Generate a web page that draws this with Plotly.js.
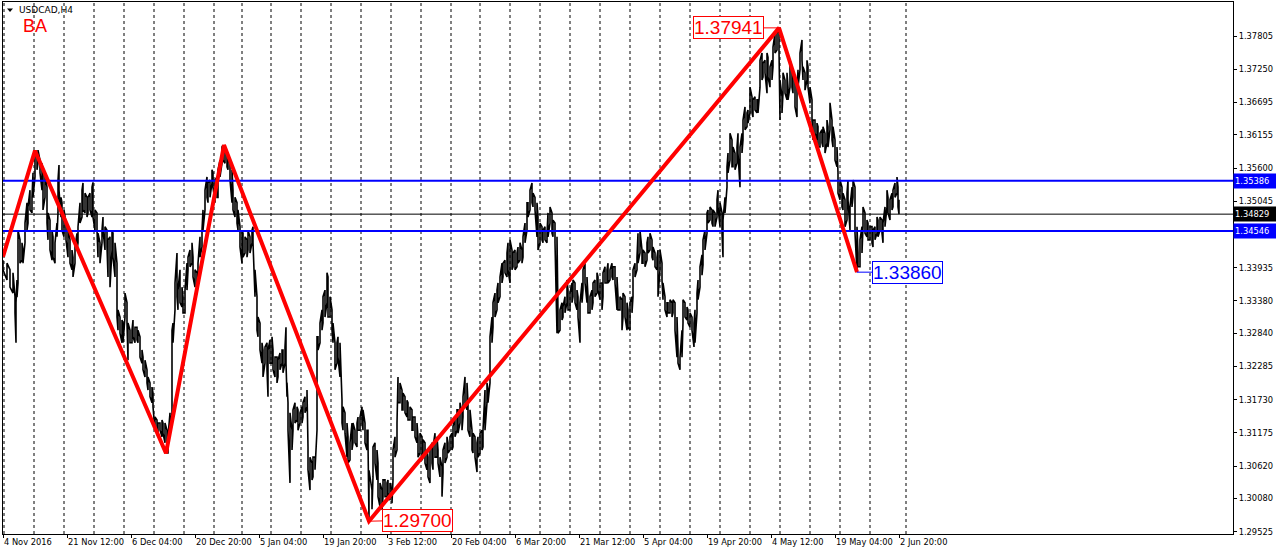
<!DOCTYPE html>
<html><head><meta charset="utf-8">
<script src="https://cdn.plot.ly/plotly-3.0.1.min.js"></script>
<style>html,body{margin:0;padding:0;background:#fff;}#chart{width:1276px;height:555px;}</style>
</head><body><div id="chart"></div>
<script>
// H4 bars: index of bar (from 4 Nov 2016 20:00), high and low of the bar group
const barIndex = [0,4,7,10,12,13,14,15,17,19,20,22,24,25,27,29,30,32,34,35,37,39,40,42,44,45,47,49,50,52,54,55,56,58,59,61,63,65,67,69,70,72,74,75,77,79,80,82,84,85,87,89,90,92,94,95,97,99,100,102,104,105,107,109,110,112,114,115,117,119,120,122,124,125,127,129,130,132,134,135,137,139,140,142,144,145,147,149,150,152,154,155,157,159,160,162,164,165,167,169,170,172,174,175,177,179,180,182,184,185,187,189,190,192,194,195,197,199,200,202,204,205,207,209,210,212,214,215,217,219,220,222,224,225,227,229,
230,232,234,235,237,239,240,242,244,245,247,249,250,252,254,255,257,259,260,262,264,265,267,269,270,272,274,275,277,279,280,282,283,284,285,287,289,290,292,294,295,297,299,300,302,304,305,307,309,310,312,314,315,317,319,320,322,324,325,327,329,330,332,334,335,337,339,340,342,344,345,347,349,350,352,354,355,357,359,360,362,364,365,366,369,370,372,374,375,377,379,380,382,384,385,387,389,390,392,394,395,397,399,400,402,404,405,407,409,410,412,414,415,417,419,420,422,424,425,427,429,430,432,434,435,437,439,440,442,444,445,447,449,450,
452,454,455,457,459,460,462,464,465,467,469,470,472,474,475,477,479,480,482,484,485,487,489,490,492,494,495,497,499,500,502,504,505,507,509,510,512,514,515,517,519,520,522,524,525,527,529,530,532,534,535,537,539,540,542,544,545,547,549,550,552,554,555,557,559,560,562,564,565,567,569,570,572,574,575,577,579,580,582,584,585,587,589,590,592,594,595,597,599,600,602,604,605,607,609,610,612,614,615,617,619,620,622,624,625,627,629,630,632,634,635,637,639,640,642,644,645,647,649,650,652,654,655,657,659,660,662,664,665,667,669,670,672,674,675,677,679,680,682,684,685,687,689,691,692,694,695,697,699,700,702,704,705,707,709,710,712,714,715,717,719,720,722,724,725,727,729,730,732,734,735,737,739,740,742,744,745,747,749,750,752,754,755,757,759,760,762,764,765,767,769,770,772,774,776,777,779,780,782,784,785,787,789,790,792,794,795,797,799,800,802,804,805,807,809,810,812,814,815,817,819,820,822,824,825,827,829,830,832,834,835,837,839,840,842,844,845,847,849,850,852,854,855,857,859,860,862,864,865,867,869,870,872,874,875,877,879,880,882,884,885,887,889,890,892,894,895,896];
const barHigh = [1.3406,1.3401,1.3390,1.3385,1.3345,1.3335,1.3373,1.3456,1.3440,1.3435,1.3423,1.3468,1.3502,1.3495,1.3523,1.3511,1.3552,1.3578,1.3585,1.3590,1.3573,1.3568,1.3552,1.3552,1.3528,1.3485,1.3473,1.3456,1.3445,1.3435,1.3468,1.3540,1.3565,1.3511,1.3502,1.3490,1.3468,1.3462,1.3440,1.3423,1.3411,1.3428,1.3451,1.3462,1.3502,1.3523,1.3535,1.3518,1.3511,1.3511,1.3518,1.3528,1.3536,1.3490,1.3485,1.3451,1.3435,1.3456,1.3478,1.3462,1.3456,1.3440,1.3445,1.3456,1.3451,1.3435,1.3401,1.3323,1.3311,1.3306,1.3301,1.3351,1.3335,1.3301,1.3289,1.3289,1.3306,1.3294,1.3294,1.3289,1.3278,1.3256,1.3244,1.3239,1.3223,1.3211,1.3201,1.3194,1.3184,1.3144,1.3139,1.3134,1.3134,1.3139,1.3134,1.3134,1.3122,1.3111,1.3151,1.3289,1.3301,1.3368,1.3418,1.3356,1.3390,1.3361,1.3345,1.3356,1.3401,1.3411,1.3423,1.3435,1.3411,1.3390,1.3385,1.3401,1.3445,1.3456,1.3490,1.3523,1.3545,1.3535,1.3540,1.3557,1.3552,1.3540,1.3545,1.3557,1.3573,1.3595,1.3598,1.3590,1.3585,1.3578,1.3568,1.3557,
1.3523,1.3511,1.3502,1.3490,1.3462,1.3456,1.3451,1.3445,1.3440,1.3456,1.3445,1.3456,1.3462,1.3390,1.3345,1.3311,1.3301,1.3268,1.3256,1.3261,1.3268,1.3256,1.3273,1.3278,1.3256,1.3244,1.3244,1.3239,1.3251,1.3256,1.3256,1.3261,1.3294,1.3201,1.3168,1.3151,1.3122,1.3156,1.3168,1.3161,1.3156,1.3151,1.3161,1.3168,1.3178,1.3189,1.3094,1.3077,1.3067,1.3077,1.3077,1.3278,1.3278,1.3301,1.3323,1.3345,1.3356,1.3385,1.3378,1.3345,1.3323,1.3301,1.3268,1.3268,1.3278,1.3268,1.3172,1.3161,1.3151,1.3134,1.3111,1.3101,1.3134,1.3134,1.3122,1.3134,1.3144,1.3144,1.3161,1.3156,1.3134,1.3122,1.3122,1.3055,1.3022,1.3094,1.3101,1.3089,1.3067,1.3034,1.3022,1.3039,1.3039,1.3034,1.3039,1.3034,1.3022,1.3089,1.3111,1.3134,1.3211,1.3201,1.3189,1.3184,1.3178,1.3172,1.3168,1.3161,1.3156,1.3144,1.3144,1.3134,1.3111,1.3117,1.3111,1.3106,1.3101,1.3089,1.3077,1.3089,1.3101,1.3094,1.3117,1.3111,1.3089,1.3077,1.3061,1.3089,1.3101,1.3111,1.3101,1.3111,1.3117,1.3128,
1.3144,1.3156,1.3156,1.3168,1.3151,1.3178,1.3211,1.3201,1.3168,1.3156,1.3122,1.3117,1.3111,1.3101,1.3111,1.3117,1.3122,1.3122,1.3189,1.3201,1.3189,1.3278,1.3311,1.3335,1.3351,1.3356,1.3368,1.3378,1.3401,1.3401,1.3406,1.3418,1.3435,1.3440,1.3423,1.3418,1.3423,1.3418,1.3428,1.3435,1.3423,1.3445,1.3468,1.3502,1.3502,1.3523,1.3535,1.3518,1.3511,1.3502,1.3478,1.3468,1.3462,1.3456,1.3462,1.3451,1.3485,1.3495,1.3485,1.3473,1.3468,1.3445,1.3318,1.3323,1.3335,1.3328,1.3345,1.3373,1.3356,1.3351,1.3368,1.3373,1.3368,1.3356,1.3345,1.3335,1.3368,1.3390,1.3401,1.3378,1.3345,1.3345,1.3356,1.3368,1.3373,1.3385,1.3378,1.3368,1.3368,1.3385,1.3395,1.3390,1.3401,1.3390,1.3401,1.3395,1.3395,1.3378,1.3345,1.3345,1.3340,1.3351,1.3345,1.3335,1.3323,1.3335,1.3345,1.3390,1.3401,1.3411,1.3451,1.3456,1.3423,1.3423,1.3418,1.3435,1.3445,1.3451,1.3440,1.3428,1.3418,1.3411,1.3423,1.3423,1.3401,1.3368,1.3345,1.3335,1.3335,1.3340,1.3335,1.3340,1.3335,1.3311,1.3256,1.3244,1.3289,1.3340,1.3335,1.3328,1.3323,1.3318,1.3311,1.3301,1.3323,1.3351,1.3373,1.3395,1.3415,1.3440,1.3456,1.3485,1.3490,1.3495,1.3490,1.3490,1.3485,1.3507,1.3523,1.3502,1.3485,1.3473,1.3511,1.3562,1.3585,1.3618,1.3607,1.3595,1.3585,1.3595,1.3618,1.3595,1.3618,1.3640,1.3662,1.3652,1.3657,1.3695,1.3679,1.3674,1.3679,1.3674,1.3674,1.3740,1.3752,1.3735,1.3740,1.3752,1.3745,1.3729,1.3740,1.3762,1.3785,1.3785,1.3794,1.3707,1.3679,1.3719,1.3707,1.3719,1.3695,1.3740,1.3729,1.3719,1.3707,1.3695,1.3724,1.3752,1.3774,1.3729,1.3719,1.3740,1.3729,1.3695,1.3674,1.3640,1.3640,1.3635,1.3629,1.3618,1.3624,1.3629,1.3618,1.3640,1.3629,1.3669,1.3640,1.3629,1.3607,1.3595,1.3552,1.3540,1.3528,1.3518,1.3507,1.3518,1.3540,1.3495,1.3528,1.3540,1.3528,1.3462,1.3418,1.3440,1.3462,1.3495,1.3485,1.3473,1.3468,1.3462,1.3462,1.3456,1.3462,1.3478,1.3473,1.3478,1.3473,1.3468,1.3495,1.3523,1.3511,1.3507,1.3518,1.3523,1.3535,1.3545,1.3528,1.3507];
const barLow = [1.3390,1.3373,1.3361,1.3351,1.3318,1.3268,1.3344,1.3368,1.3401,1.3406,1.3401,1.3435,1.3456,1.3468,1.3490,1.3485,1.3511,1.3545,1.3557,1.3568,1.3552,1.3523,1.3490,1.3511,1.3468,1.3440,1.3423,1.3406,1.3411,1.3401,1.3445,1.3485,1.3523,1.3478,1.3456,1.3445,1.3440,1.3411,1.3401,1.3390,1.3378,1.3401,1.3423,1.3435,1.3468,1.3478,1.3490,1.3485,1.3478,1.3485,1.3490,1.3478,1.3478,1.3456,1.3456,1.3411,1.3401,1.3435,1.3456,1.3423,1.3428,1.3378,1.3361,1.3423,1.3411,1.3378,1.3311,1.3289,1.3284,1.3268,1.3268,1.3311,1.3301,1.3239,1.3268,1.3268,1.3278,1.3268,1.3273,1.3268,1.3244,1.3234,1.3223,1.3211,1.3201,1.3189,1.3178,1.3168,1.3161,1.3122,1.3117,1.3117,1.3122,1.3111,1.3117,1.3101,1.3084,1.3084,1.3122,1.3151,1.3268,1.3323,1.3345,1.3323,1.3335,1.3328,1.3318,1.3318,1.3356,1.3390,1.3395,1.3401,1.3378,1.3361,1.3356,1.3378,1.3411,1.3428,1.3456,1.3490,1.3511,1.3502,1.3511,1.3535,1.3528,1.3502,1.3511,1.3511,1.3545,1.3568,1.3573,1.3568,1.3562,1.3557,1.3540,1.3502,
1.3490,1.3478,1.3468,1.3456,1.3428,1.3401,1.3411,1.3418,1.3411,1.3423,1.3418,1.3435,1.3435,1.3345,1.3289,1.3278,1.3256,1.3234,1.3211,1.3234,1.3223,1.3178,1.3234,1.3234,1.3223,1.3211,1.3201,1.3211,1.3223,1.3234,1.3218,1.3234,1.3234,1.3178,1.3122,1.3034,1.3089,1.3122,1.3134,1.3139,1.3122,1.3134,1.3134,1.3144,1.3151,1.3161,1.3056,1.3022,1.3039,1.3044,1.3056,1.3122,1.3256,1.3268,1.3289,1.3301,1.3311,1.3335,1.3311,1.3311,1.3289,1.3268,1.3223,1.3234,1.3244,1.3211,1.3134,1.3122,1.3117,1.3077,1.3067,1.3072,1.3089,1.3101,1.3101,1.3094,1.3122,1.3122,1.3134,1.3122,1.3101,1.3089,1.3101,1.2970,1.2990,1.3044,1.3067,1.3039,1.3011,1.2994,1.2989,1.3011,1.3011,1.3011,1.3017,1.3005,1.3000,1.3039,1.3077,1.3089,1.3168,1.3168,1.3156,1.3156,1.3151,1.3144,1.3139,1.3139,1.3122,1.3122,1.3111,1.3101,1.3077,1.3084,1.3072,1.3077,1.3067,1.3056,1.3044,1.3034,1.3067,1.3056,1.3077,1.3077,1.3067,1.3044,1.3011,1.3051,1.3067,1.3077,1.3084,1.3089,1.3089,1.3094,
1.3111,1.3122,1.3117,1.3134,1.3122,1.3144,1.3168,1.3156,1.3122,1.3111,1.3089,1.3084,1.3077,1.3052,1.3077,1.3084,1.3089,1.3094,1.3122,1.3168,1.3168,1.3201,1.3268,1.3294,1.3311,1.3323,1.3335,1.3345,1.3368,1.3378,1.3385,1.3378,1.3390,1.3368,1.3390,1.3395,1.3390,1.3395,1.3401,1.3406,1.3401,1.3411,1.3435,1.3456,1.3478,1.3490,1.3502,1.3495,1.3490,1.3445,1.3423,1.3435,1.3440,1.3435,1.3440,1.3435,1.3445,1.3468,1.3451,1.3445,1.3435,1.3284,1.3284,1.3289,1.3306,1.3311,1.3318,1.3335,1.3323,1.3323,1.3335,1.3345,1.3335,1.3323,1.3311,1.3268,1.3335,1.3356,1.3368,1.3335,1.3318,1.3318,1.3323,1.3335,1.3345,1.3351,1.3356,1.3340,1.3323,1.3345,1.3368,1.3368,1.3368,1.3373,1.3378,1.3373,1.3368,1.3323,1.3323,1.3323,1.3289,1.3311,1.3311,1.3289,1.3294,1.3289,1.3318,1.3345,1.3378,1.3390,1.3401,1.3418,1.3401,1.3401,1.3395,1.3406,1.3418,1.3423,1.3411,1.3406,1.3395,1.3390,1.3345,1.3390,1.3373,1.3340,1.3323,1.3311,1.3318,1.3318,1.3311,1.3318,1.3289,1.3244,1.3234,1.3223,1.3244,1.3301,1.3311,1.3306,1.3301,1.3294,1.3289,1.3261,1.3268,1.3318,1.3340,1.3361,1.3381,1.3398,1.3423,1.3451,1.3468,1.3473,1.3468,1.3462,1.3462,1.3478,1.3495,1.3462,1.3451,1.3411,1.3485,1.3528,1.3552,1.3573,1.3562,1.3562,1.3557,1.3568,1.3585,1.3528,1.3585,1.3607,1.3624,1.3629,1.3635,1.3652,1.3652,1.3645,1.3657,1.3652,1.3652,1.3695,1.3707,1.3712,1.3719,1.3685,1.3712,1.3695,1.3707,1.3729,1.3752,1.3757,1.3757,1.3640,1.3652,1.3685,1.3685,1.3674,1.3674,1.3695,1.3695,1.3685,1.3662,1.3645,1.3695,1.3724,1.3740,1.3707,1.3690,1.3707,1.3695,1.3668,1.3640,1.3607,1.3618,1.3607,1.3595,1.3595,1.3602,1.3595,1.3585,1.3602,1.3595,1.3624,1.3607,1.3595,1.3573,1.3562,1.3518,1.3507,1.3495,1.3490,1.3462,1.3473,1.3507,1.3456,1.3495,1.3511,1.3451,1.3386,1.3395,1.3395,1.3418,1.3462,1.3451,1.3445,1.3440,1.3440,1.3435,1.3428,1.3440,1.3451,1.3445,1.3456,1.3451,1.3435,1.3462,1.3495,1.3485,1.3473,1.3490,1.3495,1.3511,1.3518,1.3495,1.3483];

// ZigZag pivots
const zigIndex = [0, 32, 163, 221, 366, 776, 854];
const zigPrice = [1.34118, 1.35889, 1.30834, 1.35984, 1.29700, 1.37941, 1.33860];
const pivotLabels = ['1.37941', '1.29700', '1.33860'];

// Horizontal levels
const levelPrices = [1.35386, 1.34546];
const levelLabels = ['1.35386', '1.34546'];
const lastPrice = 1.34829;
const lastLabel = '1.34829';

// Axes
const xTickIndex = [0,64,128,192,256,320,384,448,512,576,640,704,768,832,896];
const xTickText = ['4 Nov 2016','21 Nov 12:00','6 Dec 04:00','20 Dec 20:00','5 Jan 04:00','19 Jan 20:00','3 Feb 12:00','20 Feb 04:00','6 Mar 20:00','21 Mar 12:00','5 Apr 04:00','19 Apr 20:00','4 May 12:00','19 May 04:00','2 Jun 20:00'];
const yTickValues = [1.37805,1.37250,1.36695,1.36155,1.35600,1.35045,1.34490,1.33935,1.33380,1.32840,1.32285,1.31730,1.31175,1.30620,1.30080,1.29525];
const yTickText = ['1.37805','1.37250','1.36695','1.36155','1.35600','1.35045','1.34490','1.33935','1.33380','1.32840','1.32285','1.31730','1.31175','1.30620','1.30080','1.29525'];
const weekStartIndex = [1,31,61,91,121,151,181,211,239,268,298,328,358,388,418,448,477,507,537,567,597,627,657,687,717,747,777,807,837,867,903];

const X_MAX = 1230;
const Y_MIN = 1.29486, Y_MAX = 1.38373;

// build scribble path through each bar group's high/low
const px = [], py = [];
for (let k = 0; k < barIndex.length; k++) {
  if (k % 2 === 0) { px.push(barIndex[k], barIndex[k]); py.push(barHigh[k], barLow[k]); }
  else { px.push(barIndex[k], barIndex[k]); py.push(barLow[k], barHigh[k]); }
}

const traces = [
  {x: px, y: py, type: 'scatter', mode: 'lines', line: {color: '#000000', width: 1.6}, hoverinfo: 'skip'},
  {x: [0, X_MAX], y: [lastPrice, lastPrice], type: 'scatter', mode: 'lines', line: {color: '#000000', width: 1}, hoverinfo: 'skip'},
];
levelPrices.forEach(p => traces.push({x: [0, X_MAX], y: [p, p], type: 'scatter', mode: 'lines', line: {color: '#0000FF', width: 2}, hoverinfo: 'skip'}));
traces.push({x: zigIndex, y: zigPrice, type: 'scatter', mode: 'lines', line: {color: '#FF0000', width: 4}, hoverinfo: 'skip'});

const shapes = weekStartIndex.map(i => ({type: 'line', xref: 'x', yref: 'paper', x0: i, x1: i, y0: 0, y1: 1,
  line: {color: '#000000', width: 1, dash: '3px,3px'}, layer: 'below'}));
// small triangle before the symbol name
const xp = v => (v - 3) / 1230, yp = v => (534 - v) / 532;
shapes.push({type: 'path', xref: 'paper', yref: 'paper',
  path: `M ${xp(7)} ${yp(8.5)} L ${xp(13)} ${yp(8.5)} L ${xp(10)} ${yp(12)} Z`, fillcolor: '#000', line: {width: 0}});

const pivotFont = {family: 'Liberation Sans, Arial, sans-serif', size: 19};
const annotations = [
  {xref: 'paper', yref: 'paper', x: xp(17), y: yp(10), xanchor: 'left', yanchor: 'middle', showarrow: false,
   text: 'USDCAD,H4', font: {family: 'DejaVu Sans, sans-serif', size: 9, color: '#000'}},
  {xref: 'paper', yref: 'paper', x: xp(20.5), y: yp(26), xanchor: 'left', yanchor: 'middle', showarrow: false,
   text: 'BA', font: {family: 'Liberation Sans, Arial, sans-serif', size: 18, color: '#FF0000'}},
  {x: zigIndex[5], y: zigPrice[5], text: pivotLabels[0], showarrow: true, arrowhead: 0, arrowwidth: 1, arrowcolor: '#FF0000',
   ax: -51, ay: 0, font: Object.assign({color: '#FF0000'}, pivotFont), bordercolor: '#FF0000', borderwidth: 1, borderpad: 0, bgcolor: '#FFFFFF'},
  {x: zigIndex[4], y: zigPrice[4], text: pivotLabels[1], showarrow: true, arrowhead: 0, arrowwidth: 1, arrowcolor: '#FF0000',
   ax: 48, ay: -1, font: Object.assign({color: '#FF0000'}, pivotFont), bordercolor: '#FF0000', borderwidth: 1, borderpad: 0, bgcolor: '#FFFFFF'},
  {x: zigIndex[6], y: zigPrice[6], text: pivotLabels[2], showarrow: true, arrowhead: 0, arrowwidth: 1, arrowcolor: '#0000FF',
   ax: 50, ay: 0, font: Object.assign({color: '#0000FF'}, pivotFont), bordercolor: '#0000FF', borderwidth: 1, borderpad: 0, bgcolor: '#FFFFFF'},
];
const axisFont = {family: 'DejaVu Sans, sans-serif', size: 8.3, color: '#000'};
levelPrices.forEach((p, i) => annotations.push({xref: 'paper', yref: 'y', x: 1, y: p, xanchor: 'left', yanchor: 'middle',
  showarrow: false, text: levelLabels[i], bgcolor: '#0000FF', font: Object.assign({}, axisFont, {color: '#FFFFFF'}),
  width: 42, align: 'left', borderpad: 1, height: 12}));
annotations.push({xref: 'paper', yref: 'y', x: 1, y: lastPrice, xanchor: 'left', yanchor: 'middle',
  showarrow: false, text: lastLabel, bgcolor: '#000000', font: Object.assign({}, axisFont, {color: '#FFFFFF'}),
  width: 42, align: 'left', borderpad: 1, height: 12});

const layout = {
  width: 1276, height: 555,
  margin: {l: 3, r: 43, t: 2, b: 21, pad: 0},
  paper_bgcolor: '#FFFFFF', plot_bgcolor: '#FFFFFF',
  showlegend: false,
  xaxis: {range: [0, X_MAX], showgrid: false, zeroline: false, showline: true, mirror: true, linecolor: '#000', linewidth: 1,
    tickmode: 'array', tickvals: xTickIndex, ticktext: xTickText, ticks: 'outside', ticklen: 3, tickcolor: '#000',
    ticklabelposition: 'outside right', tickfont: axisFont, fixedrange: true},
  yaxis: {range: [Y_MIN, Y_MAX], side: 'right', showgrid: false, zeroline: false, showline: true, mirror: true, linecolor: '#000', linewidth: 1,
    tickmode: 'array', tickvals: yTickValues, ticktext: yTickText, ticks: 'outside', ticklen: 3, tickcolor: '#000',
    tickfont: axisFont, fixedrange: true},
  shapes: shapes,
  annotations: annotations,
};
Plotly.newPlot('chart', traces, layout, {displayModeBar: false, staticPlot: true});
</script>
</body></html>
